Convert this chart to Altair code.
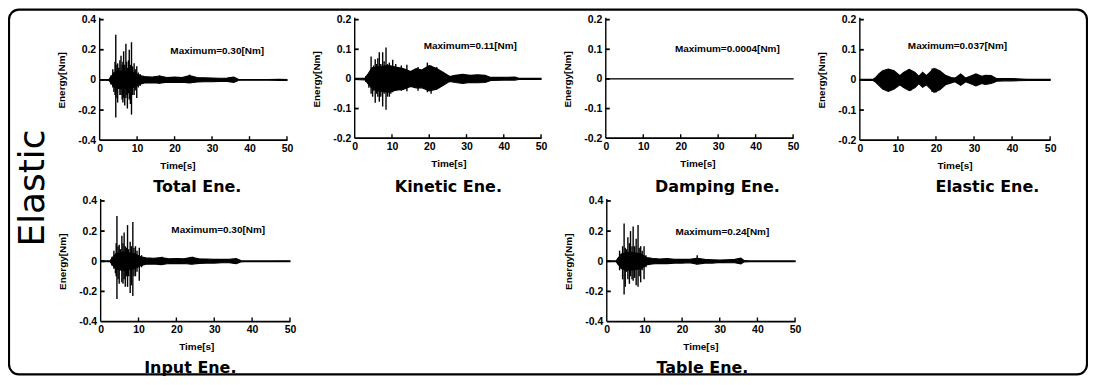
import altair as alt
import pandas as pd

# ---------------- data ----------------
TIME_TICKS = [0, 10, 20, 30, 40, 50]
Y_TICKS_04 = [-0.4, -0.2, 0, 0.2, 0.4]
Y_TICKS_02 = [-0.2, -0.1, 0, 0.1, 0.2]

PANEL_TITLES = ["Total Ene.", "Kinetic Ene.", "Damping Ene.", "Elastic Ene.", "Input Ene.", "Table Ene."]
MAX_LABELS = ["Maximum=0.30[Nm]", "Maximum=0.11[Nm]", "Maximum=0.0004[Nm]",
              "Maximum=0.037[Nm]", "Maximum=0.30[Nm]", "Maximum=0.24[Nm]"]

# Total energy: envelope of the dense oscillation + individual spikes
TOTAL_BAND_T = [0, 2.5, 3.0, 4.0, 6.0, 9.0, 10.5, 12, 14, 16, 18, 20, 22, 24, 26, 28, 30, 32, 34, 35.8, 37, 38, 45, 48, 50]
TOTAL_BAND_HI = [0.002, 0.003, 0.02, 0.05, 0.06, 0.05, 0.03, 0.022, 0.018, 0.026, 0.016, 0.018, 0.015, 0.028, 0.016,
                 0.014, 0.012, 0.011, 0.012, 0.018, 0.004, 0.002, 0.002, 0.004, 0.003]
TOTAL_BAND_LO = [-0.002, -0.003, -0.02, -0.05, -0.06, -0.05, -0.03, -0.02, -0.018, -0.022, -0.015, -0.016, -0.015,
                 -0.02, -0.014, -0.012, -0.012, -0.01, -0.01, -0.016, -0.004, -0.002, -0.002, -0.003, -0.003]
TOTAL_SPIKE_T = [3.0, 3.5, 3.8, 4.1, 4.3, 4.6, 4.8, 5.1, 5.4, 5.7, 6.0, 6.2, 6.4, 6.7, 7.0, 7.2, 7.4, 7.7, 7.9,
                 8.2, 8.5, 8.8, 9.2, 9.5, 9.9, 10.3, 10.8, 16.0, 24.0]
TOTAL_SPIKE_HI = [0.03, 0.07, 0.05, 0.12, 0.30, 0.10, 0.11, 0.08, 0.13, 0.16, 0.10, 0.12, 0.19, 0.10, 0.24, 0.12,
                  0.08, 0.13, 0.20, 0.10, 0.25, 0.09, 0.11, 0.07, 0.09, 0.05, 0.04, 0.03, 0.035]
TOTAL_SPIKE_LO = [-0.03, -0.05, -0.08, -0.10, -0.25, -0.12, -0.15, -0.06, -0.10, -0.10, -0.13, -0.15, -0.12, -0.17,
                  -0.12, -0.10, -0.19, -0.09, -0.13, -0.16, -0.23, -0.10, -0.10, -0.07, -0.12, -0.05, -0.04, -0.025, -0.02]

# Kinetic energy
KIN_BAND_T = [0, 2.8, 3.5, 4.5, 6, 9, 11, 13, 15, 16.5, 18, 20, 22, 24, 25.5, 27, 29, 31, 33, 35, 36.5, 40, 43, 44, 50]
KIN_BAND_HI = [0.002, 0.003, 0.015, 0.035, 0.04, 0.045, 0.04, 0.035, 0.025, 0.035, 0.03, 0.045, 0.035, 0.02, 0.008,
               0.012, 0.015, 0.012, 0.014, 0.012, 0.005, 0.005, 0.006, 0.002, 0.002]
KIN_BAND_LO = [-0.002, -0.003, -0.015, -0.03, -0.04, -0.045, -0.038, -0.035, -0.025, -0.03, -0.03, -0.04, -0.035,
               -0.02, -0.008, -0.012, -0.015, -0.012, -0.013, -0.012, -0.005, -0.004, -0.004, -0.002, -0.002]
KIN_SPIKE_T = [3.0, 3.8, 4.4, 4.8, 5.1, 5.5, 5.9, 6.2, 6.6, 7.0, 7.5, 7.9, 8.4, 8.8, 9.3, 9.7, 10.2, 11.0, 12.5,
               14.0, 17.0, 19.5, 20.5, 22.0]
KIN_SPIKE_HI = [0.01, 0.02, 0.076, 0.04, 0.045, 0.066, 0.05, 0.07, 0.09, 0.05, 0.09, 0.06, 0.106, 0.05, 0.055, 0.045,
                0.065, 0.05, 0.045, 0.048, 0.04, 0.055, 0.045, 0.04]
KIN_SPIKE_LO = [-0.01, -0.03, -0.05, -0.06, -0.04, -0.08, -0.05, -0.06, -0.077, -0.06, -0.093, -0.05, -0.104, -0.06,
                -0.06, -0.05, -0.045, -0.04, -0.04, -0.042, -0.04, -0.045, -0.05, -0.035]

# Damping energy (practically zero)
DAMP_BAND_T = [0, 10, 20, 30, 40, 50]
DAMP_BAND_HI = [0.0002, 0.0003, 0.0004, 0.0004, 0.0004, 0.0004]
DAMP_BAND_LO = [-0.0002, -0.0002, -0.0002, -0.0002, -0.0002, -0.0002]
DAMP_SPIKE_T = []
DAMP_SPIKE_HI = []
DAMP_SPIKE_LO = []

# Elastic energy
ELA_BAND_T = [0, 3.5, 4.2, 5.0, 6.0, 7.5, 9.0, 10.5, 11.5, 13.0, 14.5, 15.5, 16.5, 17.5, 19.5, 21.0, 22.5, 24.0,
              25.0, 26.5, 27.8, 29.0, 30.5, 32.0, 33.0, 34.5, 36.0, 38.0, 40.0, 44.0, 50.0]
ELA_BAND_HI = [0.002, 0.002, 0.008, 0.02, 0.03, 0.036, 0.03, 0.014, 0.025, 0.035, 0.025, 0.012, 0.025, 0.014, 0.038,
               0.03, 0.015, 0.008, 0.006, 0.02, 0.006, 0.012, 0.02, 0.012, 0.015, 0.014, 0.004, 0.004, 0.004, 0.002,
               0.002]
ELA_BAND_LO = [-0.002, -0.002, -0.008, -0.018, -0.03, -0.038, -0.03, -0.016, -0.025, -0.035, -0.025, -0.012, -0.024,
               -0.016, -0.041, -0.033, -0.016, -0.01, -0.006, -0.018, -0.006, -0.012, -0.02, -0.012, -0.015, -0.012,
               -0.004, -0.003, -0.003, -0.002, -0.002]
ELA_SPIKE_T = [7.0, 8.0, 12.8, 13.4, 19.0, 20.0]
ELA_SPIKE_HI = [0.036, 0.035, 0.036, 0.033, 0.038, 0.037]
ELA_SPIKE_LO = [-0.037, -0.036, -0.034, -0.036, -0.04, -0.042]

# Input energy
INPUT_BAND_T = [0, 2.5, 3.0, 4.0, 6.0, 9.0, 10.5, 12, 14, 16, 18, 20, 22, 24, 26, 28, 30, 32, 34, 35.8, 37, 38, 45, 48, 50]
INPUT_BAND_HI = [0.002, 0.003, 0.02, 0.05, 0.06, 0.05, 0.03, 0.022, 0.02, 0.025, 0.016, 0.018, 0.016, 0.026, 0.016,
                 0.015, 0.012, 0.012, 0.012, 0.018, 0.004, 0.002, 0.002, 0.003, 0.003]
INPUT_BAND_LO = [-0.002, -0.003, -0.02, -0.05, -0.06, -0.05, -0.03, -0.02, -0.018, -0.022, -0.015, -0.016, -0.015,
                 -0.02, -0.014, -0.012, -0.012, -0.01, -0.01, -0.016, -0.004, -0.002, -0.002, -0.003, -0.003]
INPUT_SPIKE_T = [3.0, 3.5, 3.9, 4.1, 4.3, 4.6, 4.9, 5.2, 5.6, 5.9, 6.2, 6.5, 6.8, 7.1, 7.4, 7.8, 8.1, 8.5, 8.8, 9.2,
                 9.6, 10.2, 10.8, 16.2, 24.3]
INPUT_SPIKE_HI = [0.03, 0.07, 0.05, 0.12, 0.30, 0.10, 0.11, 0.08, 0.17, 0.12, 0.19, 0.10, 0.09, 0.24, 0.08, 0.13,
                  0.10, 0.26, 0.09, 0.10, 0.07, 0.09, 0.04, 0.03, 0.03]
INPUT_SPIKE_LO = [-0.03, -0.05, -0.08, -0.10, -0.25, -0.12, -0.15, -0.06, -0.14, -0.15, -0.12, -0.17, -0.10, -0.17,
                  -0.10, -0.21, -0.16, -0.23, -0.10, -0.10, -0.07, -0.13, -0.04, -0.025, -0.02]

# Table energy
TABLE_BAND_T = [0, 2.5, 3, 4, 6, 9, 10.5, 12, 14, 16, 18, 20, 22, 24, 26, 28, 30, 32, 34, 35.6, 36.5, 38, 50]
TABLE_BAND_HI = [0.002, 0.003, 0.02, 0.05, 0.06, 0.05, 0.025, 0.02, 0.015, 0.018, 0.012, 0.012, 0.012, 0.02, 0.012,
                 0.01, 0.008, 0.01, 0.012, 0.02, 0.004, 0.002, 0.002]
TABLE_BAND_LO = [-0.002, -0.003, -0.02, -0.05, -0.06, -0.05, -0.025, -0.018, -0.015, -0.016, -0.012, -0.012, -0.01,
                 -0.02, -0.012, -0.012, -0.008, -0.01, -0.01, -0.018, -0.004, -0.002, -0.002]
TABLE_SPIKE_T = [3.0, 3.4, 3.8, 4.2, 4.6, 4.9, 5.2, 5.6, 6.0, 6.3, 6.7, 7.0, 7.4, 7.8, 8.3, 8.6, 9.0, 9.4, 9.9, 10.4, 24.0]
TABLE_SPIKE_HI = [0.02, 0.07, 0.05, 0.10, 0.25, 0.09, 0.08, 0.16, 0.12, 0.20, 0.10, 0.23, 0.10, 0.15, 0.24, 0.09,
                  0.10, 0.07, 0.10, 0.04, 0.04]
TABLE_SPIKE_LO = [-0.02, -0.06, -0.05, -0.12, -0.22, -0.17, -0.07, -0.12, -0.15, -0.10, -0.12, -0.13, -0.11, -0.16,
                  -0.17, -0.10, -0.14, -0.06, -0.12, -0.04, -0.02]

# ---------------- layout / styling ----------------
W, H = 1084, 369
LABEL_FONT = "Liberation Sans"
TITLE_FONT = "DejaVu Sans"
PAD = 0.04  # scales run a little past the drawn axis frame


def panel(name, band_t, band_hi, band_lo, sp_t, sp_hi, sp_lo, ymax, yticks, box, time_title_x,
          max_label, max_pos, title_pos):
    x0, x1, ytop, ybot = box
    ppx = (x1 - x0) / 50.0              # pixels per second
    ppy = (ybot - ytop) / (2 * ymax)     # pixels per Nm
    xpad = 50 * PAD
    ypad = ymax * PAD
    xs = alt.Scale(domain=[-xpad, 50 + xpad], range=[x0 - xpad * ppx, x1 + xpad * ppx], nice=False, zero=False)
    ys = alt.Scale(domain=[-ymax - ypad, ymax + ypad], range=[ybot + ypad * ppy, ytop - ypad * ppy],
                   nice=False, zero=False)
    common = dict(
        labelFont=LABEL_FONT, labelFontSize=10.5, labelFontWeight="bold", labelColor="black",
        titleFont=LABEL_FONT, titleFontWeight="bold", titleColor="black",
        domain=False, grid=False, ticks=False, labelFlush=False,
    )
    xaxis = alt.Axis(orient="bottom", offset=ybot - H, values=TIME_TICKS, format="d", labelPadding=3,
                     title="Time[s]", titleFontSize=10, titleX=time_title_x, titleY=25,
                     titleBaseline="middle", titleAlign="center", **common)
    yaxis = alt.Axis(orient="left", offset=-x0, values=yticks, labelPadding=4,
                     labelExpr="replace(format(datum.value, '.1~f'), '\u2212', '-')",
                     title="Energy[Nm]", titleFontSize=10, titleX=-38, titleY=(ytop + ybot) / 2,
                     titleAngle=270, titleBaseline="middle", titleAlign="center", **common)

    px = 1.0 / ppx
    py = 1.0 / ppy
    n_x = len(TIME_TICKS)

    # signal spikes, the y-axis line and the inward x ticks (vertical rules)
    rules = pd.DataFrame({
        "panel": name,
        "t": list(sp_t) + [TIME_TICKS[0]] + TIME_TICKS[1:],
        "hi": list(sp_hi) + [ymax + 2 * py] + [-ymax + 4 * py] * (n_x - 1),
        "lo": list(sp_lo) + [-ymax] + [-ymax] * (n_x - 1),
    })
    band = pd.DataFrame({"panel": name, "t": band_t, "hi": band_hi, "lo": band_lo})
    # x-axis line and inward y ticks (horizontal rules)
    hrules = pd.DataFrame({
        "panel": name,
        "a": [TIME_TICKS[0]] + [TIME_TICKS[0]] * (len(yticks) - 1),
        "b": [TIME_TICKS[-1] + 0.5 * px] + [4 * px] * (len(yticks) - 1),
        "v": [-ymax] + yticks[1:],
    })
    one = pd.DataFrame({"panel": [name]})

    layers = [
        alt.Chart(band).mark_area(color="black", stroke="black", strokeWidth=1.2).encode(
            x=alt.X("t:Q", scale=xs, axis=xaxis),
            y=alt.Y("hi:Q", scale=ys, axis=yaxis),
            y2="lo:Q",
        ),
        alt.Chart(hrules).mark_rule(color="black", strokeWidth=1.8).encode(
            x=alt.X("a:Q", scale=xs), x2="b:Q", y=alt.Y("v:Q", scale=ys)),
        alt.Chart(rules).mark_rule(color="black", strokeWidth=1.4).encode(
            x=alt.X("t:Q", scale=xs), y=alt.Y("hi:Q", scale=ys), y2="lo:Q"),
        alt.Chart(one).mark_text(text=max_label, font=LABEL_FONT, fontSize=10, fontWeight="bold",
                                 color="black", align="center", baseline="middle").encode(
            x=alt.value(max_pos[0]), y=alt.value(max_pos[1])),
        alt.Chart(one).mark_text(text=name, font=TITLE_FONT, fontSize=16, fontWeight="bold",
                                 color="black", align="center", baseline="middle").encode(
            x=alt.value(title_pos[0]), y=alt.value(title_pos[1])),
    ]
    return alt.layer(*layers)


T = PANEL_TITLES
panels = [
    panel(T[0], TOTAL_BAND_T, TOTAL_BAND_HI, TOTAL_BAND_LO, TOTAL_SPIKE_T, TOTAL_SPIKE_HI, TOTAL_SPIKE_LO,
          0.4, Y_TICKS_04, (92, 280, 11, 132), 170, MAX_LABELS[0], (210, 42), (190, 179)),
    panel(T[1], KIN_BAND_T, KIN_BAND_HI, KIN_BAND_LO, KIN_SPIKE_T, KIN_SPIKE_HI, KIN_SPIKE_LO,
          0.2, Y_TICKS_02, (348, 535, 11, 130), 442, MAX_LABELS[1], (464, 37), (442, 179)),
    panel(T[2], DAMP_BAND_T, DAMP_BAND_HI, DAMP_BAND_LO, DAMP_SPIKE_T, DAMP_SPIKE_HI, DAMP_SPIKE_LO,
          0.2, Y_TICKS_02, (600, 788, 11, 130), 692, MAX_LABELS[2], (722, 40), (712, 179)),
    panel(T[3], ELA_BAND_T, ELA_BAND_HI, ELA_BAND_LO, ELA_SPIKE_T, ELA_SPIKE_HI, ELA_SPIKE_LO,
          0.2, Y_TICKS_02, (855, 1046, 11, 132), 950, MAX_LABELS[3], (953, 37), (983, 179)),
    panel(T[4], INPUT_BAND_T, INPUT_BAND_HI, INPUT_BAND_LO, INPUT_SPIKE_T, INPUT_SPIKE_HI, INPUT_SPIKE_LO,
          0.4, Y_TICKS_04, (93, 283, 193, 314), 189, MAX_LABELS[4], (211, 222), (183, 361)),
    panel(T[5], TABLE_BAND_T, TABLE_BAND_HI, TABLE_BAND_LO, TABLE_SPIKE_T, TABLE_SPIKE_HI, TABLE_SPIKE_LO,
          0.4, Y_TICKS_04, (601, 790, 193, 314), 695, MAX_LABELS[5], (717, 224), (697, 361)),
]

ONE = pd.DataFrame({"k": ["figure"]})
side_label = alt.Chart(ONE).mark_text(text="Elastic", font=TITLE_FONT, fontSize=36, color="black",
                                      angle=270, align="center", baseline="middle").encode(
    x=alt.value(25), y=alt.value(180))

frame = alt.Chart(ONE).mark_rect(fillOpacity=0, stroke="black", strokeWidth=2.2, cornerRadius=10).encode(
    x=alt.value(1), x2=alt.value(W - 1), y=alt.value(1), y2=alt.value(H - 2))

chart = alt.layer(frame, side_label, *panels).resolve_scale(
    x="independent", y="independent"
).properties(
    width=W, height=H, autosize=alt.AutoSizeParams(type="none"), padding=0
).configure_view(stroke=None)

chart.save("out.html", embed_options={"renderer": "svg", "actions": False})
